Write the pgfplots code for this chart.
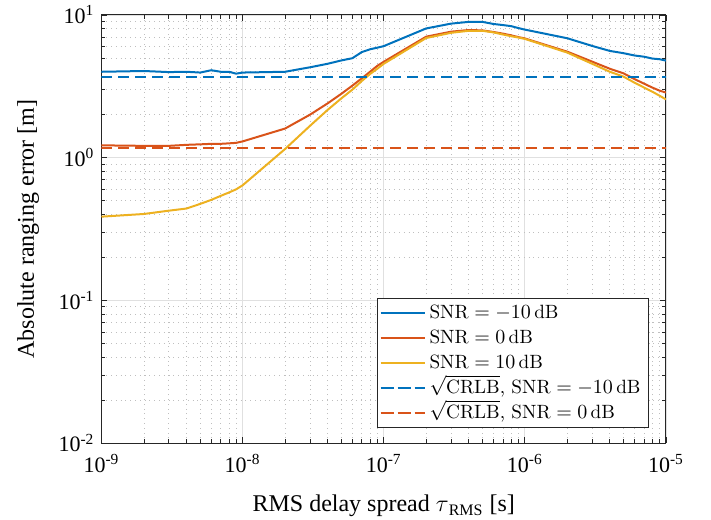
\documentclass[border=0pt]{standalone}
\usepackage{fontspec}
\usepackage{pgfplots}
\pgfplotsset{compat=1.18}
\newfontfamily\timesfont{Liberation Serif}
\definecolor{mblue}{rgb}{0,0.447,0.741}
\definecolor{morange}{rgb}{0.85,0.325,0.098}
\definecolor{myellow}{rgb}{0.929,0.694,0.125}
\begin{document}
\begin{tikzpicture}
\path[use as bounding box] (-50.75pt,-38pt) rectangle (304.75pt,221.5pt);
\begin{axis}[
  at={(0pt,0pt)}, anchor=south west,
  scale only axis, width=282.25pt, height=214pt,
  xmode=log, ymode=log,
  xmin=1e-9, xmax=1e-5, ymin=1e-2, ymax=1e1,
  xtick={1e-9,1e-8,1e-7,1e-6,1e-5},
  xticklabels={10\textsuperscript{-9},10\textsuperscript{-8},10\textsuperscript{-7},10\textsuperscript{-6},10\textsuperscript{-5}},
  ytick={1e-2,1e-1,1e0,1e1},
  yticklabels={10\textsuperscript{-2},10\textsuperscript{-1},10\textsuperscript{0},10\textsuperscript{1}},
  tick label style={font=\timesfont\fontsize{11}{13}\selectfont},
  xticklabel style={yshift=-2pt},
  tick align=inside,
  major tick length=3pt, minor tick length=2pt,
  every tick/.style={black!85, line width=0.4pt},
  axis line style={black!85, line width=0.5pt},
  grid=both,
  major grid style={black!12, line width=0.4pt},
  minor grid style={black!25, line width=0.4pt, dotted},
  xlabel={RMS delay spread $\tau$\textsubscript{RMS} [s]},
  ylabel={Absolute ranging error [m]},
  label style={font=\timesfont\fontsize{12}{14}\selectfont},
  xlabel style={at={(axis description cs:0.5,-0.161)}, anchor=base},
  ylabel style={at={(axis description cs:-0.13,0.5)}, anchor=center},
  legend style={at={(rel axis cs:0.97,0.035)}, anchor=south east,
    font=\fontsize{9.6}{11}\selectfont, draw=black!85, line width=0.5pt,
    inner xsep=1pt, inner ysep=1pt, row sep=0pt,
    cells={anchor=west, inner ysep=0pt, text height=7pt, text depth=2.2pt}},
  legend image code/.code={\path (0pt,0pt) -- (22pt,0pt);\draw[#1] (1pt,0pt) -- (20pt,0pt);},
  every axis plot/.append style={line width=1pt},
]
\addplot[mblue] coordinates {
(1e-9,4.0)(2e-9,4.05)(3e-9,3.98)(4e-9,4.0)(5e-9,3.95)(6e-9,4.1)(7e-9,4.0)(8e-9,4.0)(9e-9,3.88)
(1e-8,3.95)(2e-8,4.0)(3e-8,4.3)(4e-8,4.55)(5e-8,4.8)(6e-8,4.98)(7e-8,5.5)(8e-8,5.75)(9e-8,5.9)
(1e-7,6.05)(2e-7,8.05)(3e-7,8.7)(4e-7,8.95)(5e-7,8.95)(6e-7,8.65)(7e-7,8.5)(8e-7,8.35)(9e-7,8.1)
(1e-6,7.9)(2e-6,6.87)(3e-6,6.07)(4e-6,5.6)(5e-6,5.4)(6e-6,5.2)(7e-6,5.1)(8e-6,4.95)(9e-6,4.9)(1e-5,4.79)};
\addlegendentry{$\mathrm{SNR} = -10\,\mathrm{dB}$}
\addplot[morange] coordinates {
(1e-9,1.22)(2e-9,1.21)(3e-9,1.21)(4e-9,1.23)(5e-9,1.24)(6e-9,1.25)(7e-9,1.25)(8e-9,1.26)(9e-9,1.27)
(1e-8,1.3)(2e-8,1.6)(3e-8,2.0)(4e-8,2.4)(5e-8,2.8)(6e-8,3.2)(7e-8,3.6)(8e-8,4.0)(9e-8,4.4)
(1e-7,4.7)(2e-7,7.05)(3e-7,7.64)(4e-7,7.85)(5e-7,7.8)(6e-7,7.6)(7e-7,7.4)(8e-7,7.2)(9e-7,7.0)
(1e-6,6.85)(2e-6,5.53)(3e-6,4.71)(4e-6,4.2)(5e-6,3.9)(6e-6,3.55)(7e-6,3.3)(8e-6,3.1)(9e-6,2.95)(1e-5,2.86)};
\addlegendentry{$\mathrm{SNR} = 0\,\mathrm{dB}$}
\addplot[myellow] coordinates {
(1e-9,0.386)(2e-9,0.403)(3e-9,0.425)(4e-9,0.44)(5e-9,0.474)(6e-9,0.506)(7e-9,0.54)(8e-9,0.57)(9e-9,0.60)
(1e-8,0.64)(2e-8,1.15)(3e-8,1.67)(4e-8,2.16)(5e-8,2.6)(6e-8,3.0)(7e-8,3.45)(8e-8,3.86)(9e-8,4.2)
(1e-7,4.55)(2e-7,6.9)(3e-7,7.5)(4e-7,7.75)(5e-7,7.75)(6e-7,7.55)(7e-7,7.3)(8e-7,7.1)(9e-7,6.95)
(1e-6,6.8)(2e-6,5.45)(3e-6,4.55)(4e-6,4.0)(5e-6,3.7)(6e-6,3.35)(7e-6,3.1)(8e-6,2.9)(9e-6,2.72)(1e-5,2.56)};
\addlegendentry{$\mathrm{SNR} = 10\,\mathrm{dB}$}
\addplot[mblue, dash pattern=on 5.5pt off 3pt] coordinates {(1e-9,3.68)(1e-5,3.68)};
\addlegendentry{$\sqrt{\mathrm{CRLB}}$, $\mathrm{SNR} = -10\,\mathrm{dB}$\hspace*{1pt}}
\addplot[morange, dash pattern=on 5.5pt off 3pt] coordinates {(1e-9,1.17)(1e-5,1.17)};
\addlegendentry{$\sqrt{\mathrm{CRLB}}$, $\mathrm{SNR} = 0\,\mathrm{dB}$}
\end{axis}
\end{tikzpicture}
\end{document}
